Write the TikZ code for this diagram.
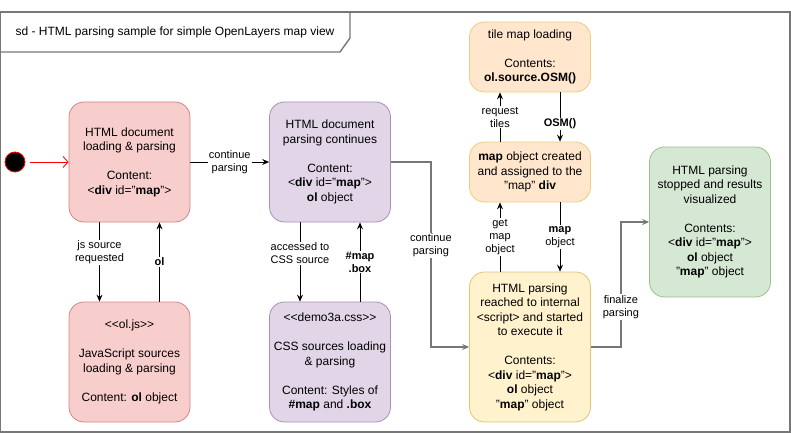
\documentclass[tikz,border=0pt]{standalone}
\usepackage{fontspec}
\setmainfont{Liberation Sans}
\usepackage{xcolor}
\usetikzlibrary{arrows.meta}

\definecolor{redfill}{HTML}{F8CECC}
\definecolor{redline}{HTML}{B85450}
\definecolor{purpfill}{HTML}{E1D5E7}
\definecolor{purpline}{HTML}{9673A6}
\definecolor{orfill}{HTML}{FFE6CC}
\definecolor{orline}{HTML}{D79B00}
\definecolor{yelfill}{HTML}{FFF2CC}
\definecolor{yelline}{HTML}{D6B656}
\definecolor{grnfill}{HTML}{D5E8D4}
\definecolor{grnline}{HTML}{82B366}
\definecolor{framegray}{HTML}{777777}

\tikzset{
    box/.style={draw, rounded corners=15pt, line width=0.8pt, align=center,
        minimum width=121pt, inner sep=0pt,
        font=\fontsize{12}{14.5}\selectfont},
    lbl/.style={fill=white, inner sep=1pt, align=center,
        font=\fontsize{11}{13}\selectfont},
}

\begin{document}
\begin{tikzpicture}[x=1pt, y=-1pt, >={Stealth[length=7pt,width=6pt,inset=2.5pt]}]
    \useasboundingbox (0,0) rectangle (791,433);

    % frame
    \draw [framegray, line width=1.4pt] (0.7,12) rectangle (790,432);
    \draw [framegray, line width=1.4pt] (0.7,52) -- (340,52) -- (350,38) -- (350,12);
    \path (175,32) node [font=\fontsize{12}{14.5}\selectfont] (title)
        {sd - HTML parsing sample for simple OpenLayers map view};

    \path (15,162) node [circle, fill=black, draw=red, line width=0.8pt,
        minimum size=20pt, inner sep=0pt] (st) {};

    \path (129.5,162) node [box, fill=redfill, draw=redline!70, minimum height=120pt] (ld)
        {HTML document\\loading \& parsing\\[14.5pt]Content:\\<\textbf{div} id="\textbf{map}">};
    \path (129.5,362) node [box, fill=redfill, draw=redline!70, minimum height=120pt] (js)
        {<{}<ol.js>{}>\\[14.5pt]JavaScript sources\\loading \& parsing\\[14.5pt]Content: \textbf{ol} object};
    \path (330,162) node [box, fill=purpfill, draw=purpline!80, minimum height=120pt] (pc)
        {HTML document\\parsing continues\\[14.5pt]Content:\\<\textbf{div} id="\textbf{map}">\\\textbf{ol} object};
    \path (330,362) node [box, fill=purpfill, draw=purpline!80, minimum height=120pt] (css)
        {<{}<demo3a.css>{}>\\[14.5pt]CSS sources loading\\\& parsing\\[14.5pt]Content: Styles of\\\textbf{\#map} and \textbf{.box}};
    \path (530,57) node [box, fill=orfill, draw=orline!50, minimum height=70pt] (tile)
        {tile map loading\\[14.5pt]Contents:\\\textbf{ol.source.OSM()}};
    \path (530,172) node [box, fill=orfill, draw=orline!50, minimum height=60pt] (mo)
        {\textbf{map} object created\\and assigned to the\\"map" \textbf{div}};
    \path (530,347) node [box, fill=yelfill, draw=yelline!80, minimum height=150pt] (sc)
        {HTML parsing\\reached to internal\\<script> and started\\to execute it\\[14.5pt]Contents:\\<\textbf{div} id="\textbf{map}">\\\textbf{ol} object\\"\textbf{map}" object};
    \path (710,222) node [box, fill=grnfill, draw=grnline!80, minimum height=150pt] (fin)
        {HTML parsing\\stopped and results\\visualized\\[14.5pt]Contents:\\<\textbf{div} id="\textbf{map}">\\\textbf{ol} object\\"\textbf{map}" object};

    % connectors
    \draw [red, line width=0.8pt, -{Straight Barb[length=5pt,width=11pt]}, shorten <=5pt] (st) -- (ld);
    \draw [->, line width=0.8pt] (ld) -- (pc) node [lbl, midway] {continue\\parsing};
    \draw [->, line width=0.8pt] ([xshift=-30pt]ld.south) -- ([xshift=-30pt]js.north)
        node [lbl, pos=0.38] {js source\\requested};
    \draw [->, line width=0.8pt] ([xshift=30pt]js.north) -- ([xshift=30pt]ld.south)
        node [lbl, midway] {\textbf{ol}};
    \draw [->, line width=0.8pt] ([xshift=-30pt]pc.south) -- ([xshift=-30pt]css.north)
        node [lbl, pos=0.39] {accessed to\\CSS source};
    \draw [->, line width=0.8pt] ([xshift=30pt]css.north) -- ([xshift=30pt]pc.south)
        node [lbl, midway] {\textbf{\#map}\\\textbf{.box}};
    \draw [->, line width=0.8pt] ([xshift=-30pt]mo.north) -- ([xshift=-30pt]tile.south)
        node [lbl, midway] {request\\tiles};
    \draw [->, line width=0.8pt] ([xshift=30pt]tile.south) -- ([xshift=30pt]mo.north)
        node [lbl, pos=0.64] {\textbf{OSM()}};
    \draw [->, line width=0.8pt] ([xshift=-30pt]sc.north) -- ([xshift=-30pt]mo.south)
        node [lbl, midway] {get\\map\\object};
    \draw [->, line width=0.8pt] ([xshift=30pt]mo.south) -- ([xshift=30pt]sc.north)
        node [lbl, midway] {\textbf{map}\\object};
    \draw [->, framegray, line width=1.4pt] (pc.east) -- ++(40,0) |- (sc.west)
        node [lbl, text=black, pos=0.225] {continue\\parsing};
    \draw [->, framegray, line width=1.4pt] (sc.east) -- ++(30,0) |- (fin.west)
        node [lbl, text=black, pos=0.16] {finalize\\parsing};
\end{tikzpicture}
\end{document}
